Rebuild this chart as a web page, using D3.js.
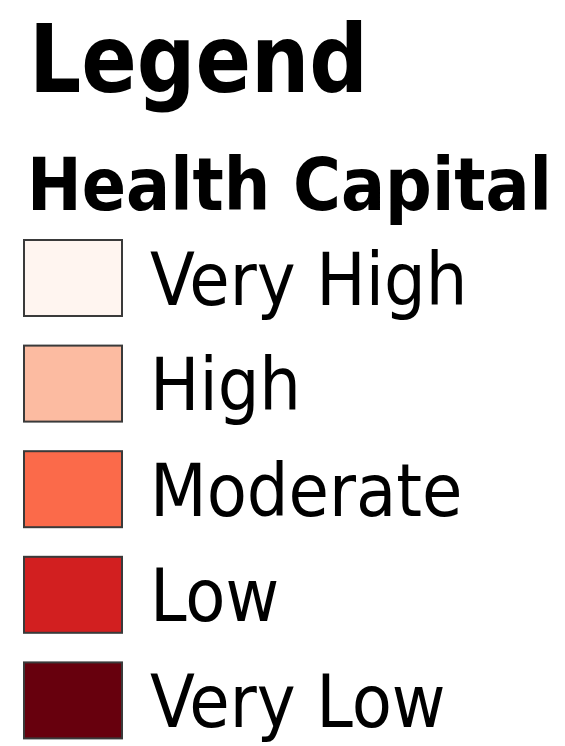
<!DOCTYPE html>
<html lang="en">
<head>
    <meta charset="UTF-8">
    <title>Health Capital Legend</title>
    <script src="https://d3js.org/d3.v7.min.js"></script>
    <style>
        body { margin: 0; background: #fff; }
        svg { display: block; }
        .title {
            font-family: "DejaVu Sans Condensed", "DejaVu Sans", sans-serif;
            font-stretch: condensed;
            font-weight: bold;
            fill: #000;
        }
        .item-label {
            font-family: "DejaVu Sans Condensed", "DejaVu Sans", sans-serif;
            font-stretch: condensed;
            fill: #000;
        }
        .swatch {
            stroke: #3a3a3a;
            stroke-width: 2;
        }
    </style>
</head>
<body>
    <svg id="legend"></svg>

    <script>
        // Legend classes, top to bottom
        const categories = ["Very High", "High", "Moderate", "Low", "Very Low"];
        const classColors = ["#fff5f0", "#fcbba1", "#fb6a4a", "#d21f20", "#67000d"];
        const legendTitle = "Legend";
        const layerTitle = "Health Capital";

        const width = 565, height = 746;

        const svg = d3.select("#legend")
            .attr("width", width)
            .attr("height", height);

        // Title lines (squeezed to the width they take in the original)
        svg.append("text")
            .attr("class", "title")
            .attr("x", 29)
            .attr("y", 92)
            .attr("textLength", 339)
            .attr("lengthAdjust", "spacingAndGlyphs")
            .style("font-size", "95px")
            .text(legendTitle);

        svg.append("text")
            .attr("class", "title")
            .attr("x", 27)
            .attr("y", 210)
            .attr("textLength", 525)
            .attr("lengthAdjust", "spacingAndGlyphs")
            .style("font-size", "73px")
            .text(layerTitle);

        // Vertical position of each class row: 76px boxes, 105.6px apart
        const boxH = 76, rowStep = 105.6;
        const y = d3.scaleBand()
            .domain(categories)
            .range([240, 240 + rowStep * (categories.length - 1) + boxH])
            .paddingInner((rowStep - boxH) / rowStep)
            .paddingOuter(0);

        const color = d3.scaleOrdinal()
            .domain(categories)
            .range(classColors);

        const rows = svg.selectAll(".row")
            .data(categories)
            .enter()
            .append("g")
            .attr("class", "row")
            .attr("transform", d => `translate(0,${y(d)})`);

        rows.append("rect")
            .attr("class", "swatch")
            .attr("x", 24)
            .attr("y", 0)
            .attr("width", 98)
            .attr("height", y.bandwidth())
            .attr("fill", d => color(d));

        rows.append("text")
            .attr("class", "item-label")
            .attr("x", 150)
            .attr("y", y.bandwidth() / 2 + 26.5)
            .style("font-size", "73px")
            .text(d => d);
    </script>
</body>
</html>
